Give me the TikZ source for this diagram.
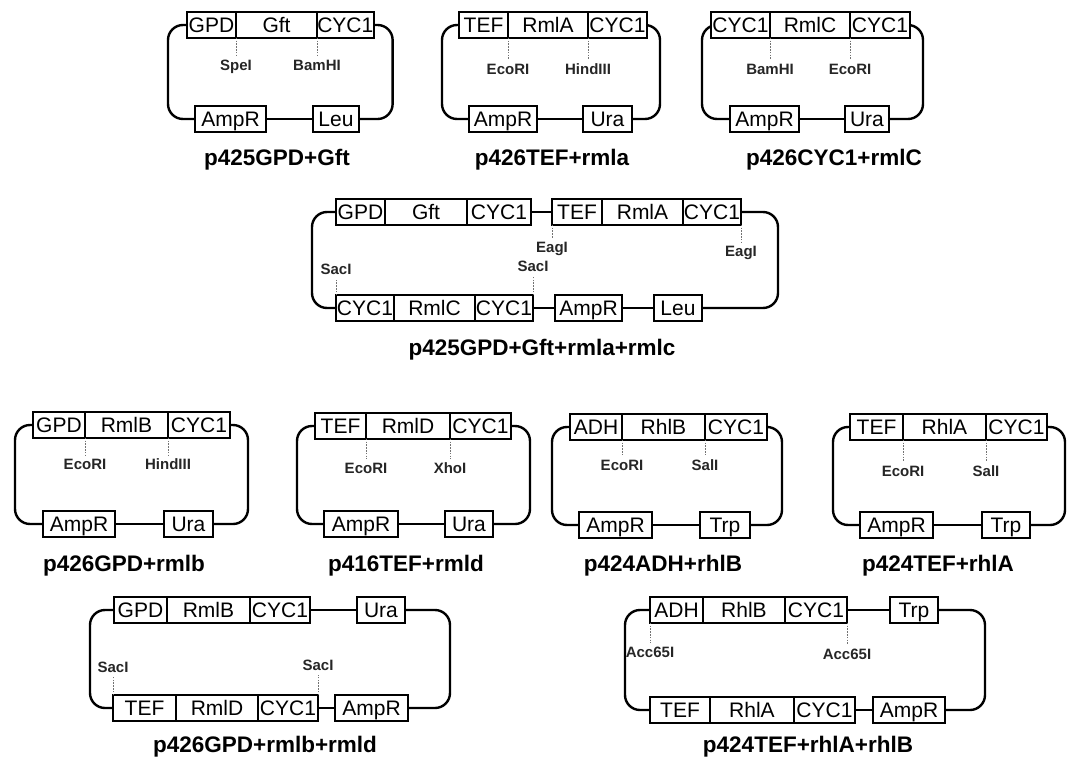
\documentclass[tikz,border=0pt]{standalone}
\usepackage{fontspec}
\setmainfont{Liberation Sans}
\usepackage{tikz}
\usetikzlibrary{positioning,backgrounds}

\begin{document}
\begin{tikzpicture}[
  x=1pt, y=-1pt,
  cassette/.style={draw, fill=white, line width=2.1pt, outer sep=0pt, inner xsep=0.3pt, inner ysep=0pt, minimum height=25.5pt, text height=15pt, text depth=1pt, font=\fontsize{21}{23}\selectfont},
  backbone/.style={line width=2.4pt, rounded corners=15pt},
  site/.style={draw=black!55, line width=0.9pt, dash pattern=on 1.6pt off 1.2pt, shorten >=3pt},
  site label/.style={inner sep=1pt, text=black!85, font=\bfseries\fontsize{15}{17}\selectfont},
  plasmid name/.style={anchor=base, font=\bfseries\fontsize{22.5}{26}\selectfont}
]
  \useasboundingbox (0,0) rectangle (1072,758);

  % p425GPD+Gft
  \node[cassette, anchor=west, minimum width=49pt] (a-prom) at (187,25) {GPD};
  \node[cassette, right=0pt of a-prom, minimum width=81pt] (a-gene) {Gft};
  \node[cassette, right=0pt of a-gene, minimum width=56pt] (a-term) {CYC1};
  \node[cassette, anchor=west, minimum width=71pt] (a-amp) at (195,119) {AmpR};
  \node[cassette, anchor=west, minimum width=46pt] (a-mark) at (313,119) {Leu};
  \node[site label, below=21pt of a-prom.south east] (a-s1) {SpeI};
  \node[site label, below=21pt of a-gene.south east] (a-s2) {BamHI};
  \node[plasmid name] (a-name) at (277,165) {p425GPD+Gft};
  \draw[site] (a-prom.south east) -- (a-s1);
  \draw[site] (a-gene.south east) -- (a-s2);
  \begin{scope}[on background layer]
    \draw[backbone] (a-prom.west) -- ++(-19,0) |- (a-amp.west);
    \draw[backbone] (a-term.east) -- ++(19,0) |- (a-mark.east);
    \draw[backbone] (a-amp) -- (a-mark);
  \end{scope}

  % p426TEF+rmla
  \node[cassette, anchor=west, minimum width=49pt] (b-prom) at (459,25) {TEF};
  \node[cassette, right=0pt of b-prom, minimum width=80pt] (b-gene) {RmlA};
  \node[cassette, right=0pt of b-gene, minimum width=59pt] (b-term) {CYC1};
  \node[cassette, anchor=west, minimum width=68pt] (b-amp) at (469,119) {AmpR};
  \node[cassette, anchor=west, minimum width=49pt] (b-mark) at (583,119) {Ura};
  \node[site label, below=25pt of b-prom.south east] (b-s1) {EcoRI};
  \node[site label, below=25pt of b-gene.south east] (b-s2) {HindIII};
  \node[plasmid name] (b-name) at (552,165) {p426TEF+rmla};
  \draw[site] (b-prom.south east) -- (b-s1);
  \draw[site] (b-gene.south east) -- (b-s2);
  \begin{scope}[on background layer]
    \draw[backbone] (b-prom.west) -- ++(-17,0) |- (b-amp.west);
    \draw[backbone] (b-term.east) -- ++(13,0) |- (b-mark.east);
    \draw[backbone] (b-amp) -- (b-mark);
  \end{scope}

  % p426CYC1+rmlC
  \node[cassette, anchor=west, minimum width=59pt] (c-prom) at (711,25) {CYC1};
  \node[cassette, right=0pt of c-prom, minimum width=80pt] (c-gene) {RmlC};
  \node[cassette, right=0pt of c-gene, minimum width=60pt] (c-term) {CYC1};
  \node[cassette, anchor=west, minimum width=69pt] (c-amp) at (730,119) {AmpR};
  \node[cassette, anchor=west, minimum width=44pt] (c-mark) at (845,119) {Ura};
  \node[site label, below=25pt of c-prom.south east] (c-s1) {BamHI};
  \node[site label, below=25pt of c-gene.south east] (c-s2) {EcoRI};
  \node[plasmid name] (c-name) at (834,165) {p426CYC1+rmlC};
  \draw[site] (c-prom.south east) -- (c-s1);
  \draw[site] (c-gene.south east) -- (c-s2);
  \begin{scope}[on background layer]
    \draw[backbone] (c-prom.west) -- ++(-9,0) |- (c-amp.west);
    \draw[backbone] (c-term.east) -- ++(13,0) |- (c-mark.east);
    \draw[backbone] (c-amp) -- (c-mark);
  \end{scope}

  % p425GPD+Gft+rmla+rmlc
  \node[cassette, anchor=west, minimum width=49pt] (d-prom1) at (336,212) {GPD};
  \node[cassette, right=0pt of d-prom1, minimum width=82pt] (d-gene1) {Gft};
  \node[cassette, right=0pt of d-gene1, minimum width=64pt] (d-term1) {CYC1};
  \node[cassette, anchor=west, minimum width=50pt] (d-prom2) at (552,212) {TEF};
  \node[cassette, right=0pt of d-prom2, minimum width=81pt] (d-gene2) {RmlA};
  \node[cassette, right=0pt of d-gene2, minimum width=58pt] (d-term2) {CYC1};
  \node[cassette, anchor=west, minimum width=58pt] (d-prom3) at (336,308) {CYC1};
  \node[cassette, right=0pt of d-prom3, minimum width=81pt] (d-gene3) {RmlC};
  \node[cassette, right=0pt of d-gene3, minimum width=58pt] (d-term3) {CYC1};
  \node[cassette, anchor=west, minimum width=67pt] (d-amp) at (555,308) {AmpR};
  \node[cassette, anchor=west, minimum width=48pt] (d-mark) at (654,308) {Leu};
  \node[site label, below=16pt of d-prom2.south west] (d-s1) {EagI};
  \node[site label, below=20pt of d-term2.south east] (d-s2) {EagI};
  \node[site label, above=19pt of d-prom3.north west] (d-s3) {SacI};
  \node[site label, above=22pt of d-term3.north east] (d-s4) {SacI};
  \node[plasmid name] (d-name) at (542,355) {p425GPD+Gft+rmla+rmlc};
  \draw[site] (d-prom2.south west) -- (d-s1);
  \draw[site] (d-term2.south east) -- (d-s2);
  \draw[site] (d-prom3.north west) -- (d-s3);
  \draw[site] (d-term3.north east) -- (d-s4);
  \begin{scope}[on background layer]
    \draw[backbone] (d-prom1.west) -- ++(-24,0) |- (d-prom3.west);
    \draw[backbone] (d-term2.east) -- ++(37,0) |- (d-mark.east);
    \draw[backbone] (d-term1) -- (d-prom2);
    \draw[backbone] (d-term3) -- (d-amp);
    \draw[backbone] (d-amp) -- (d-mark);
  \end{scope}

  % p426GPD+rmlb
  \node[cassette, anchor=west, minimum width=52pt] (e-prom) at (33,425) {GPD};
  \node[cassette, right=0pt of e-prom, minimum width=83pt] (e-gene) {RmlB};
  \node[cassette, right=0pt of e-gene, minimum width=62pt] (e-term) {CYC1};
  \node[cassette, anchor=west, minimum width=72pt] (e-amp) at (43,524) {AmpR};
  \node[cassette, anchor=west, minimum width=49pt] (e-mark) at (164,524) {Ura};
  \node[site label, below=20pt of e-prom.south east] (e-s1) {EcoRI};
  \node[site label, below=20pt of e-gene.south east] (e-s2) {HindIII};
  \node[plasmid name] (e-name) at (124,571) {p426GPD+rmlb};
  \draw[site] (e-prom.south east) -- (e-s1);
  \draw[site] (e-gene.south east) -- (e-s2);
  \begin{scope}[on background layer]
    \draw[backbone] (e-prom.west) -- ++(-18,0) |- (e-amp.west);
    \draw[backbone] (e-term.east) -- ++(18,0) |- (e-mark.east);
    \draw[backbone] (e-amp) -- (e-mark);
  \end{scope}

  % p416TEF+rmld
  \node[cassette, anchor=west, minimum width=51pt] (f-prom) at (315,426) {TEF};
  \node[cassette, right=0pt of f-prom, minimum width=84pt] (f-gene) {RmlD};
  \node[cassette, right=0pt of f-gene, minimum width=61pt] (f-term) {CYC1};
  \node[cassette, anchor=west, minimum width=74pt] (f-amp) at (324,524) {AmpR};
  \node[cassette, anchor=west, minimum width=48pt] (f-mark) at (445,524) {Ura};
  \node[site label, below=23pt of f-prom.south east] (f-s1) {EcoRI};
  \node[site label, below=23pt of f-gene.south east] (f-s2) {XhoI};
  \node[plasmid name] (f-name) at (406,571) {p416TEF+rmld};
  \draw[site] (f-prom.south east) -- (f-s1);
  \draw[site] (f-gene.south east) -- (f-s2);
  \begin{scope}[on background layer]
    \draw[backbone] (f-prom.west) -- ++(-18,0) |- (f-amp.west);
    \draw[backbone] (f-term.east) -- ++(19,0) |- (f-mark.east);
    \draw[backbone] (f-amp) -- (f-mark);
  \end{scope}

  % p424ADH+rhlB
  \node[cassette, anchor=west, minimum width=52pt] (g-prom) at (570,427) {ADH};
  \node[cassette, right=0pt of g-prom, minimum width=83pt] (g-gene) {RhlB};
  \node[cassette, right=0pt of g-gene, minimum width=62pt] (g-term) {CYC1};
  \node[cassette, anchor=west, minimum width=73pt] (g-amp) at (579,525) {AmpR};
  \node[cassette, anchor=west, minimum width=50pt] (g-mark) at (700,525) {Trp};
  \node[site label, below=19pt of g-prom.south east] (g-s1) {EcoRI};
  \node[site label, below=19pt of g-gene.south east] (g-s2) {SalI};
  \node[plasmid name] (g-name) at (663,571) {p424ADH+rhlB};
  \draw[site] (g-prom.south east) -- (g-s1);
  \draw[site] (g-gene.south east) -- (g-s2);
  \begin{scope}[on background layer]
    \draw[backbone] (g-prom.west) -- ++(-18,0) |- (g-amp.west);
    \draw[backbone] (g-term.east) -- ++(15,0) |- (g-mark.east);
    \draw[backbone] (g-amp) -- (g-mark);
  \end{scope}

  % p424TEF+rhlA
  \node[cassette, anchor=west, minimum width=53pt] (h-prom) at (850,427) {TEF};
  \node[cassette, right=0pt of h-prom, minimum width=83pt] (h-gene) {RhlA};
  \node[cassette, right=0pt of h-gene, minimum width=61pt] (h-term) {CYC1};
  \node[cassette, anchor=west, minimum width=73pt] (h-amp) at (860,525) {AmpR};
  \node[cassette, anchor=west, minimum width=48pt] (h-mark) at (982,525) {Trp};
  \node[site label, below=25pt of h-prom.south east] (h-s1) {EcoRI};
  \node[site label, below=25pt of h-gene.south east] (h-s2) {SalI};
  \node[plasmid name] (h-name) at (938,571) {p424TEF+rhlA};
  \draw[site] (h-prom.south east) -- (h-s1);
  \draw[site] (h-gene.south east) -- (h-s2);
  \begin{scope}[on background layer]
    \draw[backbone] (h-prom.west) -- ++(-17,0) |- (h-amp.west);
    \draw[backbone] (h-term.east) -- ++(18,0) |- (h-mark.east);
    \draw[backbone] (h-amp) -- (h-mark);
  \end{scope}

  % p426GPD+rmlb+rmld
  \node[cassette, anchor=west, minimum width=53pt] (i-prom1) at (114,610) {GPD};
  \node[cassette, right=0pt of i-prom1, minimum width=83pt] (i-gene1) {RmlB};
  \node[cassette, right=0pt of i-gene1, minimum width=60pt] (i-term1) {CYC1};
  \node[cassette, anchor=west, minimum width=48pt] (i-mark) at (357,610) {Ura};
  \node[cassette, anchor=west, minimum width=63pt] (i-prom2) at (113,708) {TEF};
  \node[cassette, right=0pt of i-prom2, minimum width=82pt] (i-gene2) {RmlD};
  \node[cassette, right=0pt of i-gene2, minimum width=60pt] (i-term2) {CYC1};
  \node[cassette, anchor=west, minimum width=73pt] (i-amp) at (335,708) {AmpR};
  \node[site label, above=21pt of i-prom2.north west] (i-s1) {SacI};
  \node[site label, above=23pt of i-term2.north east] (i-s2) {SacI};
  \node[plasmid name] (i-name) at (265,752) {p426GPD+rmlb+rmld};
  \draw[site] (i-prom2.north west) -- (i-s1);
  \draw[site] (i-term2.north east) -- (i-s2);
  \begin{scope}[on background layer]
    \draw[backbone] (i-prom1.west) -- ++(-24,0) |- (i-prom2.west);
    \draw[backbone] (i-mark.east) -- ++(45,0) |- (i-amp.east);
    \draw[backbone] (i-term1) -- (i-mark);
    \draw[backbone] (i-term2) -- (i-amp);
  \end{scope}

  % p424TEF+rhlA+rhlB
  \node[cassette, anchor=west, minimum width=53pt] (j-prom1) at (650,610) {ADH};
  \node[cassette, right=0pt of j-prom1, minimum width=82pt] (j-gene1) {RhlB};
  \node[cassette, right=0pt of j-gene1, minimum width=62pt] (j-term1) {CYC1};
  \node[cassette, anchor=west, minimum width=48pt] (j-mark) at (890,610) {Trp};
  \node[cassette, anchor=west, minimum width=60pt] (j-prom2) at (650,710) {TEF};
  \node[cassette, right=0pt of j-prom2, minimum width=84pt] (j-gene2) {RhlA};
  \node[cassette, right=0pt of j-gene2, minimum width=61pt] (j-term2) {CYC1};
  \node[cassette, anchor=west, minimum width=72pt] (j-amp) at (873,710) {AmpR};
  \node[site label, below=23pt of j-prom1.south west] (j-s1) {Acc65I};
  \node[site label, below=25pt of j-term1.south east] (j-s2) {Acc65I};
  \node[plasmid name] (j-name) at (808,752) {p424TEF+rhlA+rhlB};
  \draw[site] (j-prom1.south west) -- (j-s1);
  \draw[site] (j-term1.south east) -- (j-s2);
  \begin{scope}[on background layer]
    \draw[backbone] (j-prom1.west) -- ++(-25,0) |- (j-prom2.west);
    \draw[backbone] (j-mark.east) -- ++(47,0) |- (j-amp.east);
    \draw[backbone] (j-term1) -- (j-mark);
    \draw[backbone] (j-term2) -- (j-amp);
  \end{scope}
\end{tikzpicture}
\end{document}
